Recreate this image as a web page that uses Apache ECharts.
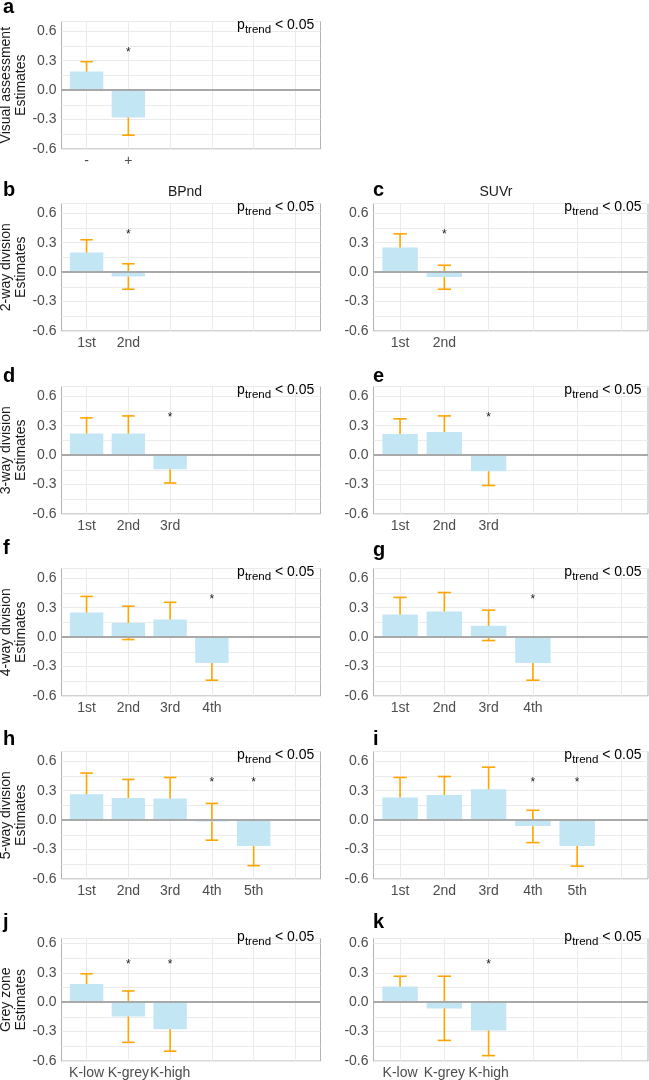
<!DOCTYPE html>
<html><head><meta charset="utf-8">
<script src="https://cdn.jsdelivr.net/npm/echarts@6/dist/echarts.min.js"></script>
<style>html,body{margin:0;padding:0;background:#fff}#c{width:649px;height:1080px}</style>
</head><body><div id="c"></div>
<script>
// ---------- data ----------
const labelsVisual = ['-', '+'];
const labelsOrdinal = ['1st', '2nd', '3rd', '4th', '5th'];
const labelsGrey = ['K-low', 'K-grey', 'K-high'];
const slotPositions = [1, 2, 3, 4, 5, 6];
const yTicks = [-0.6, -0.3, 0, 0.3, 0.6];
const rowTitles = ['Visual assessment', '2-way division', '3-way division', '4-way division', '5-way division', 'Grey zone'];
const columnTitles = ['BPnd', 'SUVr'];
const starLevel = 0.4;
const pTrendPos = [6.5, 0.65];
const pTrendValue = '< 0.05';

// a: visual assessment
const aEst = [0.19, -0.28], aLo = [0.09, -0.46], aHi = [0.29, -0.10], aSig = [0, 1];
// b: BPnd 2-way
const bEst = [0.20, -0.045], bLo = [0.07, -0.175], bHi = [0.33, 0.085], bSig = [0, 1];
// c: SUVr 2-way
const cEst = [0.25, -0.05], cLo = [0.115, -0.175], cHi = [0.39, 0.07], cSig = [0, 1];
// d: BPnd 3-way
const dEst = [0.22, 0.22, -0.145], dLo = [0.07, 0.06, -0.285], dHi = [0.38, 0.40, 0.0], dSig = [0, 0, 1];
// e: SUVr 3-way
const eEst = [0.215, 0.235, -0.165], eLo = [0.07, 0.075, -0.31], eHi = [0.37, 0.40, -0.03], eSig = [0, 0, 1];
// f: BPnd 4-way
const fEst = [0.25, 0.145, 0.18, -0.265], fLo = [0.09, -0.025, 0.01, -0.44], fHi = [0.415, 0.315, 0.355, -0.095], fSig = [0, 0, 0, 1];
// g: SUVr 4-way
const gEst = [0.23, 0.26, 0.115, -0.265], gLo = [0.05, 0.075, -0.035, -0.44], gHi = [0.405, 0.455, 0.275, -0.095], gSig = [0, 0, 0, 1];
// h: BPnd 5-way
const hEst = [0.265, 0.225, 0.22, -0.015, -0.265], hLo = [0.055, 0.035, 0.01, -0.205, -0.465], hHi = [0.48, 0.415, 0.435, 0.17, -0.06], hSig = [0, 0, 0, 1, 1];
// i: SUVr 5-way
const iEst = [0.23, 0.255, 0.315, -0.06, -0.265], iLo = [0.035, 0.06, 0.095, -0.23, -0.47], iHi = [0.435, 0.445, 0.54, 0.10, -0.065], iSig = [0, 0, 0, 1, 1];
// j: BPnd grey zone
const jEst = [0.185, -0.145, -0.275], jLo = [0.085, -0.41, -0.50], jHi = [0.29, 0.115, -0.06], jSig = [0, 1, 1];
// k: SUVr grey zone
const kEst = [0.16, -0.065, -0.29], kLo = [0.055, -0.39, -0.545], kHi = [0.265, 0.265, -0.035], kSig = [0, 0, 1];

const yMin = -0.6;
const yMaxByRow = [0.7, 0.7, 0.7, 0.7, 0.7, 0.65];

// ---------- layout / style ----------
const FONT = "'Liberation Sans', Arial, Helvetica, sans-serif";
const colLeft = [61.5, 373.5], colWidth = [259, 274.5];
const rowTop = [21.5, 203.5, 386.5, 568.5, 751.5, 938.5];
const pxPerUnit = 98;
const CAP = 0.3;

const panels = [
  {id: 'a', row: 0, col: 0, labels: labelsVisual, est: aEst, lo: aLo, hi: aHi, sig: aSig, letter: [3, 14]},
  {id: 'b', row: 1, col: 0, labels: labelsOrdinal.slice(0, 2), est: bEst, lo: bLo, hi: bHi, sig: bSig, letter: [3, 197]},
  {id: 'c', row: 1, col: 1, labels: labelsOrdinal.slice(0, 2), est: cEst, lo: cLo, hi: cHi, sig: cSig, letter: [373, 197]},
  {id: 'd', row: 2, col: 0, labels: labelsOrdinal.slice(0, 3), est: dEst, lo: dLo, hi: dHi, sig: dSig, letter: [3, 383]},
  {id: 'e', row: 2, col: 1, labels: labelsOrdinal.slice(0, 3), est: eEst, lo: eLo, hi: eHi, sig: eSig, letter: [373, 383]},
  {id: 'f', row: 3, col: 0, labels: labelsOrdinal.slice(0, 4), est: fEst, lo: fLo, hi: fHi, sig: fSig, letter: [3, 555]},
  {id: 'g', row: 3, col: 1, labels: labelsOrdinal.slice(0, 4), est: gEst, lo: gLo, hi: gHi, sig: gSig, letter: [373, 557]},
  {id: 'h', row: 4, col: 0, labels: labelsOrdinal.slice(0, 5), est: hEst, lo: hLo, hi: hHi, sig: hSig, letter: [3, 746]},
  {id: 'i', row: 4, col: 1, labels: labelsOrdinal.slice(0, 5), est: iEst, lo: iLo, hi: iHi, sig: iSig, letter: [373, 746]},
  {id: 'j', row: 5, col: 0, labels: labelsGrey, est: jEst, lo: jLo, hi: jHi, sig: jSig, letter: [3, 929]},
  {id: 'k', row: 5, col: 1, labels: labelsGrey, est: kEst, lo: kLo, hi: kHi, sig: kSig, letter: [373, 929]}
];

const grids = [], xAxes = [], yAxes = [], series = [], graphics = [];

function yLabel(v) {
  const r = Math.round(v * 100);
  for (const t of yTicks) { if (Math.round(t * 100) === r) return (r / 100).toFixed(1); }
  return '';
}

panels.forEach((p, i) => {
  const yMax = yMaxByRow[p.row];
  grids.push({
    left: colLeft[p.col], width: colWidth[p.col], top: rowTop[p.row],
    height: (yMax - yMin) * pxPerUnit,
    show: true, borderColor: '#b3b3b3', borderWidth: 1, backgroundColor: 'transparent',
    containLabel: false, outerBoundsMode: 'none'
  });
  xAxes.push({
    gridIndex: i, type: 'value', min: 0.4, max: 6.6,
    axisLine: {show: false},
    axisTick: {show: false, customValues: slotPositions},
    splitLine: {show: true, lineStyle: {color: '#ebebeb', width: 1}},
    axisLabel: {
      customValues: slotPositions, hideOverlap: false,
      formatter: v => p.labels[Math.round(v) - 1] || '',
      fontSize: 14, color: '#4d4d4d', margin: 5, fontFamily: FONT
    }
  });
  yAxes.push({
    gridIndex: i, type: 'value', min: yMin, max: yMax, interval: 0.15,
    axisLine: {show: false}, axisTick: {show: false},
    splitLine: {show: true, lineStyle: {color: '#ebebeb', width: 1}},
    axisLabel: {formatter: yLabel, fontSize: 14, color: '#4d4d4d', margin: 5, fontFamily: FONT},
    name: p.col === 0 ? rowTitles[p.row] + '\nEstimates' : '',
    nameLocation: 'middle', nameRotate: 90, nameGap: 30,
    nameTextStyle: {fontSize: 14, color: '#1a1a1a', lineHeight: 15, fontFamily: FONT}
  });
  series.push({
    type: 'bar', xAxisIndex: i, yAxisIndex: i, silent: true,
    data: p.est.map((v, k) => [k + 1, v]),
    barWidth: '80%', itemStyle: {color: '#c3e6f5'},
    markLine: {
      silent: true, symbol: 'none', label: {show: false},
      lineStyle: {color: '#a9a9a9', width: 1.8, type: 'solid'},
      data: [{yAxis: 0}]
    }
  });
  series.push({
    type: 'custom', xAxisIndex: i, yAxisIndex: i, silent: true,
    data: p.lo.map((lo, k) => [k + 1, lo, p.hi[k]]),
    encode: {x: 0, y: [1, 2]},
    renderItem: (params, api) => {
      const x = api.value(0);
      const a = api.coord([x, api.value(2)]);
      const b = api.coord([x, api.value(1)]);
      const half = api.size([CAP, 0])[0] / 2;
      const st = {stroke: '#ffa500', lineWidth: 1.6};
      return {type: 'group', children: [
        {type: 'line', shape: {x1: a[0], y1: a[1], x2: b[0], y2: b[1]}, style: st},
        {type: 'line', shape: {x1: a[0] - half, y1: a[1], x2: a[0] + half, y2: a[1]}, style: st},
        {type: 'line', shape: {x1: b[0] - half, y1: b[1], x2: b[0] + half, y2: b[1]}, style: st}
      ]};
    }
  });
  series.push({
    type: 'custom', xAxisIndex: i, yAxisIndex: i, silent: true,
    data: p.sig.map((s, k) => [k + 1, starLevel, s]).filter(d => d[2] === 1),
    encode: {x: 0, y: 1},
    renderItem: (params, api) => {
      const c = api.coord([api.value(0), api.value(1)]);
      return {type: 'text', x: c[0], y: c[1] + 2,
        style: {text: '*', fill: '#1a1a1a', font: '12px ' + FONT, align: 'center', verticalAlign: 'middle'}};
    }
  });
  series.push({
    type: 'custom', xAxisIndex: i, yAxisIndex: i, silent: true, clip: false,
    data: [pTrendPos],
    encode: {x: 0, y: 1},
    renderItem: (params, api) => {
      const c = api.coord([api.value(0), api.value(1)]);
      return {type: 'text', x: c[0] - 2, y: c[1] + 3, z2: 10,
        style: {
          text: '{p|p}{s|trend}{t| ' + pTrendValue + '}',
          align: 'right', verticalAlign: 'middle',
          rich: {
            p: {fontSize: 14, fontFamily: FONT, fill: '#000', lineHeight: 14, verticalAlign: 'top'},
            s: {fontSize: 11.5, fontFamily: FONT, fill: '#000', lineHeight: 22, verticalAlign: 'middle'},
            t: {fontSize: 14, fontFamily: FONT, fill: '#000', lineHeight: 14, verticalAlign: 'top'}
          }
        }};
    }
  });
  graphics.push({type: 'text', x: p.letter[0], y: p.letter[1] - 7,
    style: {text: p.id, font: 'bold 20px ' + FONT, fill: '#000', align: 'left', verticalAlign: 'middle'}});
});

graphics.push({type: 'text', x: 185, y: 192,
  style: {text: columnTitles[0], font: '14px ' + FONT, fill: '#1a1a1a', align: 'center', verticalAlign: 'middle'}});
graphics.push({type: 'text', x: 496, y: 192,
  style: {text: columnTitles[1], font: '14px ' + FONT, fill: '#1a1a1a', align: 'center', verticalAlign: 'middle'}});

const chart = echarts.init(document.getElementById('c'), null, {renderer: 'canvas'});
chart.setOption({
  animation: false,
  backgroundColor: '#fff',
  textStyle: {fontFamily: FONT},
  grid: grids, xAxis: xAxes, yAxis: yAxes, series: series, graphic: graphics
});
</script></body></html>
